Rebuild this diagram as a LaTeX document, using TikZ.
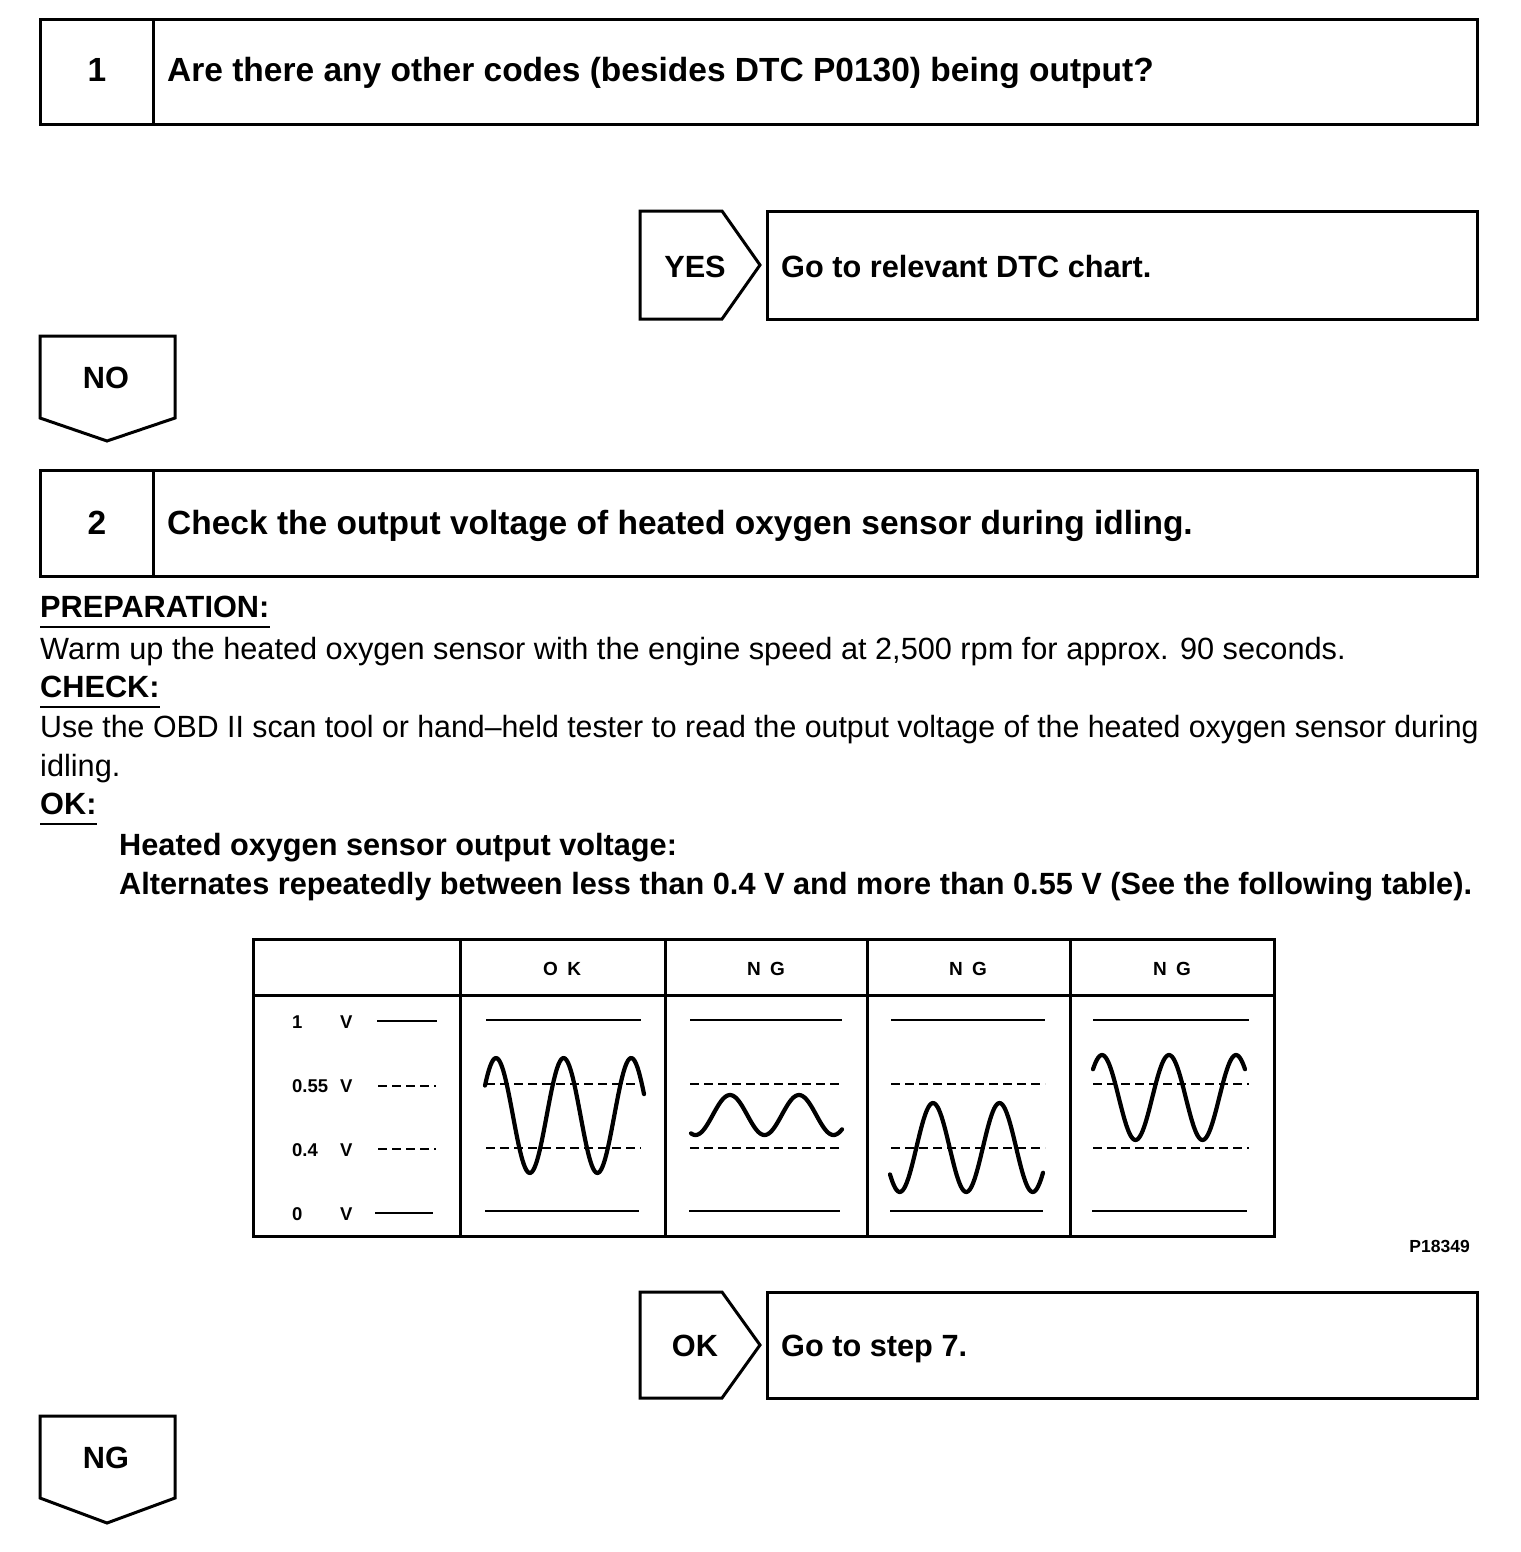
\documentclass[tikz,border=0pt]{standalone}
\usepackage{graphicx}
\usepackage{fontspec}
\setmainfont{Liberation Sans}
\begin{document}
\begin{tikzpicture}[x=1pt,y=-1pt,
  frame/.style={line width=3pt, line join=miter},
  headtxt/.style={font=\fontsize{33.5}{40}\selectfont\bfseries, inner sep=0pt, anchor=base west},
  labtxt/.style={font=\fontsize{30.7}{37}\selectfont\bfseries, inner sep=0pt, anchor=base west},
  bodytxt/.style={font=\fontsize{30.7}{37}\selectfont, inner sep=0pt, anchor=base west},
  boldtxt/.style={font=\fontsize{30.7}{37}\selectfont\bfseries, inner sep=0pt, anchor=base west},
  colhead/.style={font=\fontsize{19}{22}\selectfont\bfseries, inner sep=0pt, anchor=base},
  vlab/.style={font=\fontsize{18.5}{22}\selectfont\bfseries, inner sep=0pt, anchor=base west},
  uline/.style={line width=2.2pt},
  solidref/.style={line width=2.8pt},
  dashref/.style={line width=2.4pt, dash pattern=on 9pt off 5pt},
  wave/.style={line width=4.2pt, line cap=round, line join=round}
]
\useasboundingbox (0,0) rectangle (1520,1552);

% ---------- Step 1 ----------
\draw[frame] (40,20) rectangle (1477,125);
\draw[frame] (153,20) -- (153,125);
\node[headtxt, anchor=base] (n1) at (97,82) {1};
\node[headtxt] (q1) at (167,82) {Are there any other codes (besides DTC P0130) being output?};

% YES branch
\draw[frame] (640,211) -- (722,211) -- (760,265) -- (722,319) -- (640,319) -- cycle;
\node[labtxt, anchor=base] (yes) at (695,277) {YES};
\draw[frame] (767,211) rectangle (1477,319);
\node[labtxt] (go1) at (781,277) {Go to relevant DTC chart.};

% NO
\draw[frame] (40,336) -- (175,336) -- (175,418) -- (107,441) -- (40,418) -- cycle;
\node[labtxt, anchor=base] (no) at (106,388) {NO};

% ---------- Step 2 ----------
\draw[frame] (40,470) rectangle (1477,576);
\draw[frame] (153,470) -- (153,576);
\node[headtxt, anchor=base] (n2) at (97,534) {2};
\node[headtxt] (q2) at (167,534) {Check the output voltage of heated oxygen sensor during idling.};

\node[boldtxt] (prep) at (40,617) {PREPARATION:};
\draw[uline] ([yshift=-10pt]prep.base west) -- ([yshift=-10pt]prep.base east);
\node[bodytxt] (warm) at (40,659) {Warm up the heated oxygen sensor with the engine speed at 2,500 rpm for approx. 90 seconds.};
\node[boldtxt] (chk) at (40,697) {CHECK:};
\draw[uline] ([yshift=-10pt]chk.base west) -- ([yshift=-10pt]chk.base east);
\node[bodytxt] (use) at (40,737) {\scalebox{0.987}[1]{Use the OBD II scan tool or hand--held tester to read the output voltage of the heated oxygen sensor during}};
\node[bodytxt] (idl) at (40,776) {idling.};
\node[boldtxt] (okh) at (40,814) {OK:};
\draw[uline] ([yshift=-10pt]okh.base west) -- ([yshift=-10pt]okh.base east);
\node[boldtxt] (hos) at (119,855) {Heated oxygen sensor output voltage:};
\node[boldtxt] (alt) at (119,894) {Alternates repeatedly between less than 0.4 V and more than 0.55 V (See the following table).};

% ---------- Table ----------
\draw[frame] (253,939) rectangle (1274,1236);
\draw[frame] (253,995) -- (1274,995);
\foreach \cx in {460,665,867,1070} \draw[frame] (\cx,939) -- (\cx,1236);
\node[colhead] (hok) at (562,975) {O\,\,\,K};
\node[colhead] (hng1) at (766,975) {N\,\,\,G};
\node[colhead] (hng2) at (968,975) {N\,\,\,G};
\node[colhead] (hng3) at (1172,975) {N\,\,\,G};

\node[vlab] (l1) at (292,1028) {1};
\node[vlab] (l055) at (292,1092) {0.55};
\node[vlab] (l04) at (292,1156) {0.4};
\node[vlab] (l0) at (292,1220) {0};
\node[vlab] (v1) at (340,1028) {V};
\node[vlab] (v055) at (340,1092) {V};
\node[vlab] (v04) at (340,1156) {V};
\node[vlab] (v0) at (340,1220) {V};
\draw[solidref] (377,1021) -- (437,1021);
\draw[dashref] (378,1086) -- (436,1086);
\draw[dashref] (378,1149) -- (436,1149);
\draw[solidref] (375,1213) -- (433,1213);

% column reference lines
\foreach \xa/\xb in {486/641, 690/842, 891/1045, 1093/1249} {
  \draw[solidref] (\xa,1020) -- (\xb,1020);
  \draw[dashref] (\xa,1084) -- (\xb,1084);
  \draw[dashref] (\xa,1148) -- (\xb,1148);
  \draw[solidref] (\xa-1,1211) -- (\xb-2,1211);
}

% waves
\draw[wave] plot[domain=485:644, samples=120, smooth] (\x, {1115.5-57.5*cos((\x-496)/67.6*360)});
\draw[wave] plot[domain=691:842, samples=100, smooth] (\x, {1115-20*cos((\x-730)/69*360)});
\draw[wave] plot[domain=890:1043, samples=120, smooth] (\x, {1147.5-44.5*cos((\x-933)/66.5*360)});
\draw[wave] plot[domain=1093:1245, samples=120, smooth] (\x, {1097.5-42.5*cos((\x-1102)/67*360)});

\node[font=\fontsize{17.5}{20}\selectfont\bfseries, inner sep=0pt, anchor=base east] (pid) at (1470,1252) {P18349};

% OK branch
\draw[frame] (640,1292) -- (722,1292) -- (760,1345) -- (722,1398) -- (640,1398) -- cycle;
\node[labtxt, anchor=base] (okb) at (695,1356) {OK};
\draw[frame] (767,1292) rectangle (1477,1398);
\node[labtxt] (go7) at (781,1356) {Go to step 7.};

% NG
\draw[frame] (40,1416) -- (175,1416) -- (175,1498) -- (107,1523) -- (40,1498) -- cycle;
\node[labtxt, anchor=base] (ng) at (106,1468) {NG};
\end{tikzpicture}
\end{document}
